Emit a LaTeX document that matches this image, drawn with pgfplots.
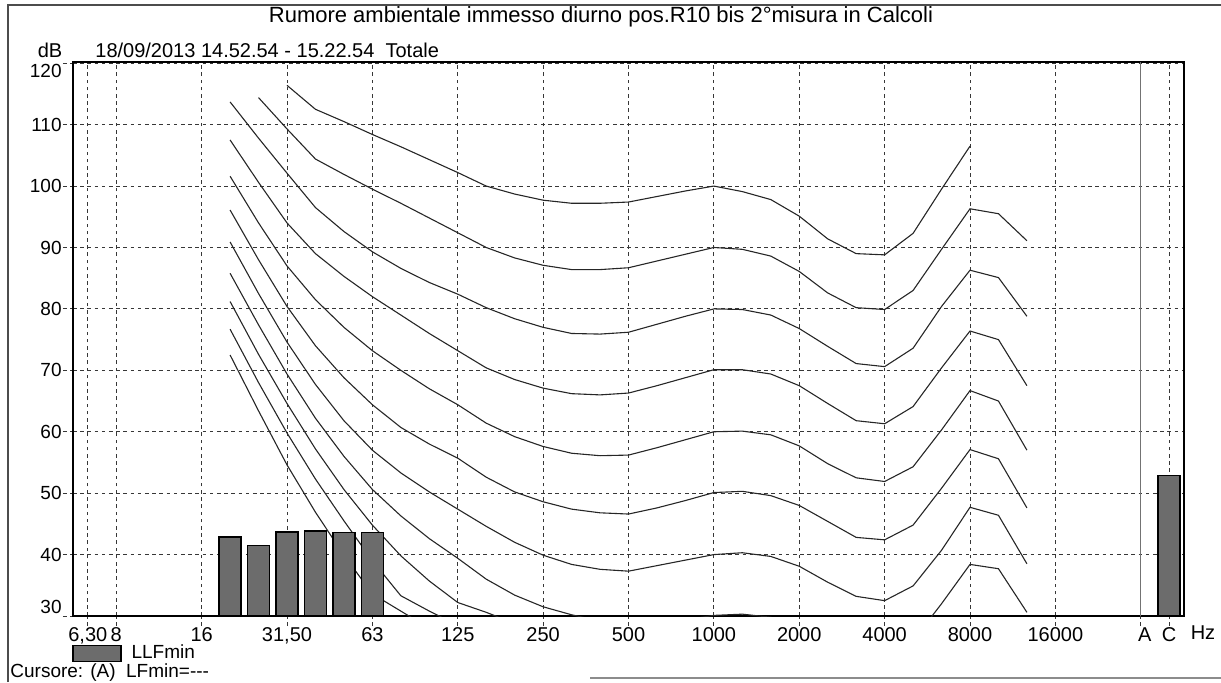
\documentclass[border=0pt]{standalone}
\usepackage{fontspec}
\setmainfont{Liberation Sans}
\usepackage{pgfplots}
\pgfplotsset{compat=1.18}
\definecolor{barfill}{RGB}{108,108,108}
\definecolor{gridc}{RGB}{55,55,55}
\begin{document}
\begin{tikzpicture}
\useasboundingbox (0,0) rectangle (610.5pt,341pt);
\draw[black!70, line width=0.6pt] (4pt,0pt) -- (4pt,338.5pt) -- (610.5pt,338.5pt);
\draw[black!45, line width=0.6pt] (295pt,2pt) -- (610.5pt,2pt);
\begin{axis}[
  at={(36.5pt,33pt)}, anchor=south west,
  scale only axis, width=555.5pt, height=277pt,
  xmin=7.48, xmax=46.52, ymin=30, ymax=120.2,
  xtick={8,9,12,15,18,21,24,27,30,33,36,39,42,46},
  xticklabels={{6,30},8,16,{31,50},63,125,250,500,1000,2000,4000,8000,16000,C},
  extra x ticks={45}, extra x tick labels={A},
  extra x tick style={grid style={solid, black!55, line width=0.5pt}, xticklabel style={xshift=2pt}},
  ytick={30,40,...,120},
  yticklabels={\raisebox{1.3pt}[0pt][0pt]{30},40,50,60,70,80,90,100,110,\raisebox{-7pt}[0pt][0pt]{120}},
  grid=major,
  grid style={gridc, line width=0.5pt, dash pattern=on 1.8pt off 1.8pt},
  tick pos=left, tick align=outside, major tick length=5pt,
  tick style={gridc, line width=0.5pt, dash pattern=on 1.8pt off 1.8pt},
  axis line style={black, line width=0.6pt},
  xticklabel style={font=\fontsize{10}{12}\selectfont, inner sep=0pt, anchor=north, yshift=-0.5pt},
  yticklabel style={font=\fontsize{9.5}{11}\selectfont, inner sep=0pt, anchor=east, xshift=-0.5pt},
  legend style={at={(axis description cs:0,0)}, anchor=north west, xshift=-0.5pt, yshift=-12.5pt,
    draw=none, fill=none, inner sep=0pt, outer sep=0pt, row sep=0pt,
    font=\fontsize{9.5}{11}\selectfont,
    /tikz/every odd column/.append style={column sep=3pt}},
  curve/.style={black!85, line width=0.55pt, mark=none, sharp plot},
]
% equal loudness contours (phon) -- band index: 13=20 Hz ... 30=1 kHz ... 41=12.5 kHz
\addplot[curve, forget plot] coordinates {(15,116.4)(16,112.5)(17,110.5)(18,108.4)(19,106.4)(20,104.3)(21,102.2)(22,100.0)(23,98.7)(24,97.7)(25,97.2)(26,97.2)(27,97.4)(28,98.3)(29,99.2)(30,100.0)(31,99.1)(32,97.8)(33,95.1)(34,91.4)(35,89.0)(36,88.8)(37,92.3)(38,99.5)(39,106.5)};
\addplot[curve, forget plot] coordinates {(14,114.4)(15,109.3)(16,104.4)(17,101.9)(18,99.5)(19,97.2)(20,94.8)(21,92.4)(22,90.0)(23,88.3)(24,87.1)(25,86.4)(26,86.4)(27,86.7)(28,87.8)(29,88.9)(30,90.0)(31,89.7)(32,88.6)(33,86.1)(34,82.6)(35,80.2)(36,79.9)(37,83.0)(38,89.7)(39,96.3)(40,95.5)(41,91.1)};
\addplot[curve, forget plot] coordinates {(13,113.7)(14,107.8)(15,102.1)(16,96.5)(17,92.6)(18,89.3)(19,86.6)(20,84.3)(21,82.4)(22,80.2)(23,78.4)(24,77.0)(25,76.0)(26,75.9)(27,76.2)(28,77.5)(29,78.8)(30,80.0)(31,79.9)(32,79.0)(33,76.8)(34,73.9)(35,71.1)(36,70.6)(37,73.6)(38,80.4)(39,86.3)(40,85.1)(41,78.8)};
\addplot[curve, forget plot] coordinates {(13,107.5)(14,100.6)(15,94.0)(16,89.0)(17,85.3)(18,82.0)(19,79.0)(20,76.0)(21,73.2)(22,70.4)(23,68.5)(24,67.1)(25,66.2)(26,66.0)(27,66.3)(28,67.5)(29,68.8)(30,70.1)(31,70.1)(32,69.4)(33,67.5)(34,64.6)(35,61.8)(36,61.3)(37,64.1)(38,70.4)(39,76.4)(40,75.0)(41,67.5)};
\addplot[curve, forget plot] coordinates {(13,101.6)(14,94.0)(15,87.0)(16,81.5)(17,77.0)(18,73.2)(19,70.0)(20,67.0)(21,64.4)(22,61.4)(23,59.2)(24,57.6)(25,56.5)(26,56.1)(27,56.2)(28,57.4)(29,58.7)(30,60.0)(31,60.1)(32,59.5)(33,57.7)(34,54.8)(35,52.5)(36,51.9)(37,54.3)(38,60.3)(39,66.7)(40,65.0)(41,57.0)};
\addplot[curve, forget plot] coordinates {(13,96.1)(14,88.0)(15,80.4)(16,74.0)(17,68.8)(18,64.4)(19,60.7)(20,58.0)(21,55.7)(22,52.6)(23,50.2)(24,48.6)(25,47.4)(26,46.8)(27,46.6)(28,47.6)(29,48.8)(30,50.1)(31,50.3)(32,49.6)(33,48.0)(34,45.4)(35,42.8)(36,42.4)(37,44.8)(38,50.8)(39,57.1)(40,55.6)(41,47.6)};
\addplot[curve, forget plot] coordinates {(13,90.9)(14,82.5)(15,74.6)(16,67.7)(17,61.8)(18,57.0)(19,53.3)(20,50.2)(21,47.4)(22,44.6)(23,42.0)(24,39.9)(25,38.4)(26,37.6)(27,37.3)(28,38.2)(29,39.1)(30,40.0)(31,40.3)(32,39.7)(33,38.1)(34,35.5)(35,33.2)(36,32.5)(37,34.9)(38,40.7)(39,47.7)(40,46.4)(41,38.5)};
\addplot[curve, forget plot] coordinates {(13,85.8)(14,77.4)(15,69.4)(16,62.2)(17,56.0)(18,50.6)(19,46.3)(20,42.6)(21,39.4)(22,36.0)(23,33.4)(24,31.5)(25,30.2)(26,29.2)(27,28.8)(28,28.9)(29,29.4)(30,30.1)(31,30.3)(32,29.8)(33,28.2)(34,25.6)(35,23.3)(36,22.6)(37,26.0)(38,32.0)(39,38.4)(40,37.7)(41,30.6)};
\addplot[curve, forget plot] coordinates {(13,81.2)(14,72.6)(15,64.6)(16,57.2)(17,50.6)(18,44.8)(19,39.8)(20,35.7)(21,32.2)(22,30.6)(23,28.8)(24,27.0)};
\addplot[curve, forget plot] coordinates {(13,76.7)(14,68.0)(15,59.8)(16,52.3)(17,45.5)(18,39.0)(19,33.3)(20,30.8)(21,28.5)};
\addplot[curve, forget plot] coordinates {(13,72.5)(14,63.4)(15,54.6)(16,46.9)(17,39.9)(18,33.6)(19,30.8)(20,28.0)};
% LLFmin bars
\addplot[ybar, bar width=0.773, bar shift=0pt, fill=barfill, draw=black, line width=0.8pt,
  legend image code/.code={\draw[fill=barfill, draw=black, line width=0.8pt] (0pt,-4pt) rectangle (24pt,4pt);}]
  coordinates {(13,42.9)(14,41.5)(15,43.7)(16,43.8)(17,43.6)(18,43.6)};
\addlegendentry{LLFmin}
\addplot[ybar, bar width=0.773, bar shift=0pt, fill=barfill, draw=black, line width=0.8pt, forget plot]
  coordinates {(46,52.9)};
\end{axis}
\node[font=\fontsize{11}{13}\selectfont] at (300.5pt,332.5pt) {Rumore ambientale immesso diurno pos.R10 bis 2°misura in Calcoli};
\node[font=\fontsize{10}{12}\selectfont] at (25pt,316pt) {dB};
\node[font=\fontsize{10}{12}\selectfont, anchor=west, inner sep=0pt] at (47.5pt,316pt) {18/09/2013 14.52.54 - 15.22.54\ \ Totale};
\node[font=\fontsize{10}{12}\selectfont] at (601.5pt,24.5pt) {Hz};
\node[font=\fontsize{9.5}{11}\selectfont, anchor=west, inner sep=0pt] at (5pt,4.5pt) {Cursore: (A)\ \ LFmin=-{}-{}-};
\end{tikzpicture}
\end{document}
